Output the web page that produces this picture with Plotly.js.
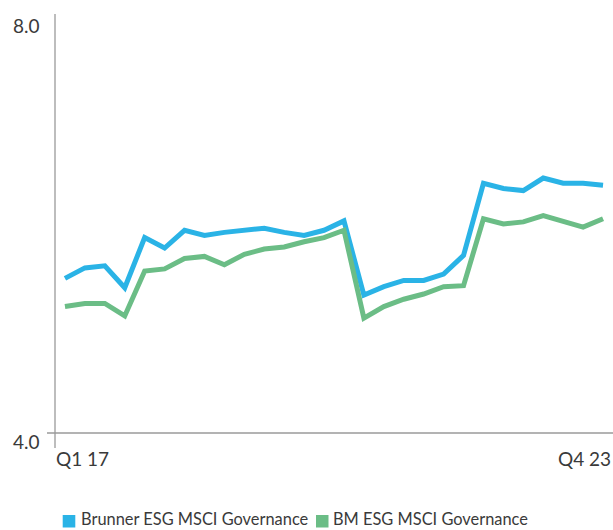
<!DOCTYPE html>
<html>
<head>
<meta charset="utf-8">
<script src="https://cdn.plot.ly/plotly-3.0.1.min.js"></script>
<style>html,body{margin:0;padding:0;background:#fff;}#chart{width:613px;height:530px;}</style>
</head>
<body>
<div id="chart"></div>
<script>
var quarters = ["Q1 17","Q2 17","Q3 17","Q4 17","Q1 18","Q2 18","Q3 18","Q4 18",
                "Q1 19","Q2 19","Q3 19","Q4 19","Q1 20","Q2 20","Q3 20","Q4 20",
                "Q1 21","Q2 21","Q3 21","Q4 21","Q1 22","Q2 22","Q3 22","Q4 22",
                "Q1 23","Q2 23","Q3 23","Q4 23"];
var brunner = [5.48,5.58,5.60,5.39,5.87,5.77,5.94,5.89,5.92,5.94,5.96,5.92,5.89,5.94,
               6.03,5.32,5.40,5.46,5.46,5.52,5.70,6.39,6.34,6.32,6.44,6.39,6.39,6.37];
var bm = [5.21,5.24,5.24,5.12,5.55,5.57,5.67,5.69,5.61,5.71,5.76,5.78,5.83,5.87,
          5.94,5.10,5.21,5.28,5.33,5.40,5.41,6.05,6.00,6.02,6.08,6.03,5.97,6.05];
var seriesNames = ["Brunner ESG MSCI Governance","BM ESG MSCI Governance"];
var yTickVals = [4.0, 8.0];

var blue = "#2ab3e6", green = "#6bbd86";
var font = "Lato, 'Open Sans', sans-serif";
var txt = "#3a3a3a";

var traces = [
  {x: quarters, y: brunner, type: "scatter", mode: "lines", name: seriesNames[0],
   line: {color: blue, width: 5}, showlegend: false},
  {x: quarters, y: bm, type: "scatter", mode: "lines", name: seriesNames[1],
   line: {color: green, width: 5}, showlegend: false}
];

var W = 558, H = 418; // plot area size
function px(x){ return (x - 55) / W; }
function py(y){ return (433 - y) / H; }

var annotations = [
  {text: yTickVals[1].toFixed(1), xref: "paper", yref: "paper", x: px(42), y: py(25),
   xanchor: "right", yanchor: "middle", showarrow: false, font: {family: font, size: 19, color: txt}},
  {text: yTickVals[0].toFixed(1), xref: "paper", yref: "paper", x: px(42), y: py(441.5),
   xanchor: "right", yanchor: "middle", showarrow: false, font: {family: font, size: 19, color: txt}},
  {text: quarters[0], xref: "paper", yref: "paper", x: px(54), y: py(458.5),
   xanchor: "left", yanchor: "middle", showarrow: false, font: {family: font, size: 19, color: txt}},
  {text: quarters[quarters.length - 1], xref: "paper", yref: "paper", x: 1, y: py(458.5),
   xanchor: "right", yanchor: "middle", showarrow: false, font: {family: font, size: 19, color: txt}},
  {text: seriesNames[0], xref: "paper", yref: "paper", x: px(78.5), y: py(518.5),
   xanchor: "left", yanchor: "middle", showarrow: false, font: {family: font, size: 16.4, color: txt}},
  {text: seriesNames[1], xref: "paper", yref: "paper", x: px(331), y: py(518.5),
   xanchor: "left", yanchor: "middle", showarrow: false, font: {family: font, size: 16.4, color: txt}}
];

var shapes = [
  {type: "line", xref: "paper", yref: "paper", x0: 0, x1: 0, y0: py(448), y1: py(14),
   line: {color: "#9a9a9a", width: 1.3}},
  {type: "line", xref: "paper", yref: "paper", x0: px(47), x1: 1, y0: 0, y1: 0,
   line: {color: "#9a9a9a", width: 1.3}},
  {type: "rect", xref: "paper", yref: "paper", x0: px(62.7), x1: px(75.3), y0: py(527.5), y1: py(515),
   fillcolor: blue, line: {width: 0}},
  {type: "rect", xref: "paper", yref: "paper", x0: px(316), x1: px(328.5), y0: py(527.5), y1: py(515),
   fillcolor: green, line: {width: 0}}
];

var layout = {
  width: 613, height: 530,
  margin: {l: 55, r: 0, t: 15, b: 97, pad: 0},
  paper_bgcolor: "#ffffff", plot_bgcolor: "#ffffff",
  showlegend: false,
  xaxis: {type: "category", range: [-0.5, 27.5], showgrid: false, zeroline: false,
          showline: false, showticklabels: false, ticks: "", fixedrange: true},
  yaxis: {range: [yTickVals[0], yTickVals[1]], showgrid: false, zeroline: false,
          showline: false, showticklabels: false, ticks: "", fixedrange: true},
  annotations: annotations,
  shapes: shapes
};

Plotly.newPlot("chart", traces, layout, {displayModeBar: false, staticPlot: true});
</script>
</body>
</html>
